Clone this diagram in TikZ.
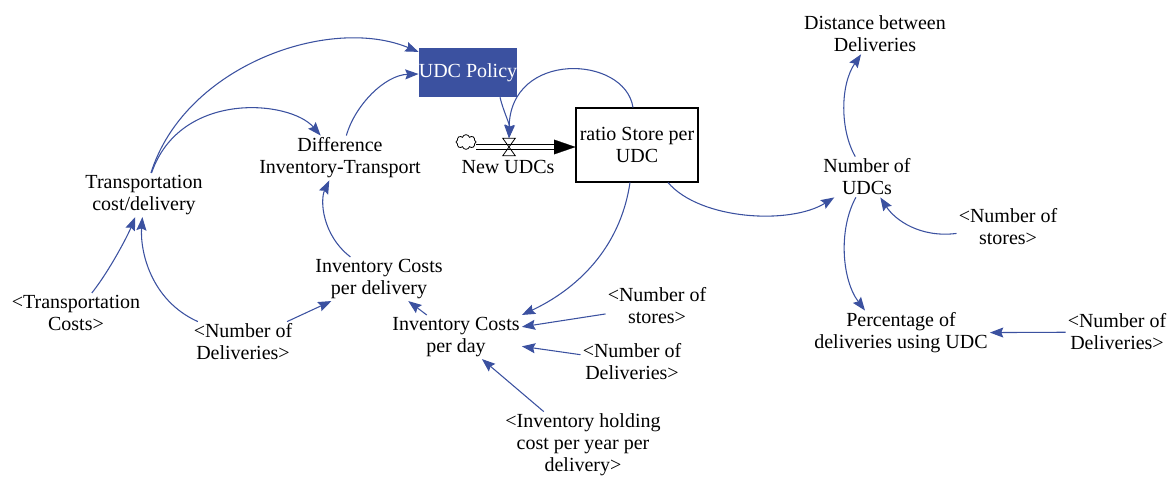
\documentclass[tikz,border=0pt]{standalone}
\usepackage{fontspec}
\setmainfont{Liberation Serif}
\newfontfamily\diagfont{Liberation Serif}
\usetikzlibrary{arrows.meta,calc,shapes.symbols}
\definecolor{linkblue}{RGB}{59,81,160}
\begin{document}
\begin{tikzpicture}[x=0.75pt,y=-0.75pt,
  lbl/.style={align=center,inner sep=1.5pt,font=\diagfont\fontsize{15}{16.5}\selectfont},
  policy/.style={fill=linkblue,text=white,inner sep=0pt,minimum width=73.5pt,minimum height=36.75pt,font=\diagfont\fontsize{15}{16.5}\selectfont},
  stock/.style={draw=black,line width=0.8pt,align=center,inner sep=0pt,minimum width=91.5pt,minimum height=55.5pt,font=\diagfont\fontsize{15}{16.5}\selectfont},
  valveshape/.style={inner sep=0pt,minimum width=9pt,minimum height=12.75pt},
  link/.style={draw=linkblue,line width=0.8pt,-{Stealth[length=10pt,width=7.5pt,inset=1.5pt]}},
  pipe/.style={draw=black,line width=0.7pt,double,double distance=2.4pt},
]
\useasboundingbox (0,0) rectangle (1170,478);

% variables
\node[lbl] (tcd) at (144,195) {Transportation\\cost/delivery};
\node[lbl] (dit) at (340,158) {Difference\\Inventory-Transport};
\node[policy] (pol) at (468,72.5) {UDC Policy};
\node[stock] (rsu) at (637,145) {ratio Store per\\UDC};
\node[lbl] (nwl) at (508,167) {New UDCs};
\node[valveshape] (valve) at (509,147) {};
\node[cloud,draw,cloud puffs=8,cloud ignores aspect,minimum width=15pt,minimum height=11pt,inner sep=0pt,line width=0.6pt] (src) at (466,142) {};
\node[lbl] (icd) at (379,279) {Inventory Costs\\per delivery};
\node[lbl] (tc) at (76,313) {<Transportation\\Costs>};
\node[lbl] (nd1) at (243,342) {<Number of\\Deliveries>};
\node[lbl] (icday) at (456,337) {Inventory Costs\\per day};
\node[lbl] (ns1) at (657,306) {<Number of\\stores>};
\node[lbl] (nd2) at (632,362) {<Number of\\Deliveries>};
\node[lbl] (ihc) at (583,445) {<Inventory holding\\cost per year per\\delivery>};
\node[lbl] (nud) at (867,177) {Number of\\UDCs};
\node[lbl] (dbd) at (875,34) {Distance between\\Deliveries};
\node[lbl] (ns2) at (1008,227) {<Number of\\stores>};
\node[lbl] (pct) at (901,333) {Percentage of\\deliveries using UDC};
\node[lbl] (nd3) at (1117,332) {<Number of\\Deliveries>};

% flow pipe into the stock
\draw[pipe] (src.east |- valve.center) -- ($(rsu.west |- valve.center)+(-20,0)$);
\draw[black,line width=0.1pt,-{Triangle[length=16pt,width=11pt]}] ($(rsu.west |- valve.center)+(-21,0)$) -- (rsu.west |- valve.center);
\draw[black,line width=0.6pt] (valve.north west) -- (valve.north east) -- (valve.south west) -- (valve.south east) -- cycle;

% causal links
\draw[link] (tcd) .. controls (185,65) and (330,15) .. (pol);
\draw[link] (tcd) .. controls (180,90) and (290,100) .. (dit);
\draw[link] (dit) .. controls (355,105) and (385,75) .. (pol);
\draw[link] (icd) .. controls (322,235) and (320,200) .. (dit);
\draw[link] (tc) .. controls (110,270) and (128,235) .. (tcd);
\draw[link] (nd1) .. controls (150,300) and (140,250) .. (tcd);
\draw[link] (nd1) -- (icd);
\draw[link] (icday) -- (icd);
\draw[link] ($(pol.south)+(32,0)$) .. controls (503,110) and (510,125) .. (valve.north);
\draw[link] ($(rsu.north)+(-4,0)$) .. controls (625,55) and (510,50) .. (valve.north);
\draw[link] ($(rsu.south)+(-7,0)$) .. controls (620,250) and (575,290) .. (icday.north east);
\draw[link] ($(rsu.south)+(31,0)$) .. controls (700,220) and (790,225) .. (nud);
\draw[link] (nud) .. controls (840,130) and (840,85) .. (dbd);
\draw[link] (ns2) .. controls (920,238) and (895,220) .. (nud);
\draw[link] (nud) .. controls (838,230) and (842,280) .. ($(pct.north)+(-36,0)$);
\draw[link] (ns1) -- (icday);
\draw[link] (nd2) -- (icday);
\draw[link] (ihc) -- (icday);
\draw[link] (nd3) -- (pct);
\end{tikzpicture}
\end{document}
